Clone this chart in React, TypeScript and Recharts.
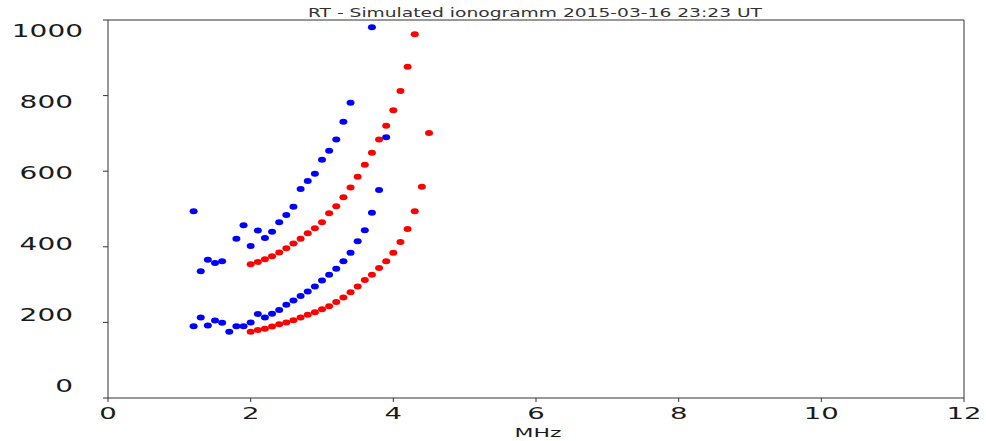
import React from "react";
import { ScatterChart, Scatter, XAxis, YAxis, ReferenceLine } from "recharts";

// frequencies (MHz) and virtual heights (km)
const blueLowerFreq = [1.2, 1.3, 1.4, 1.5, 1.6, 1.7, 1.8, 1.9, 2.0, 2.1, 2.2, 2.3, 2.4, 2.5, 2.6, 2.7, 2.8, 2.9, 3.0, 3.1, 3.2, 3.3, 3.4, 3.5, 3.6, 3.7, 3.8, 3.9];
const blueLowerHeight = [190, 213, 192, 205, 199, 175, 190, 190, 200, 222, 213, 223, 233, 247, 258, 270, 282, 295, 311, 326, 342, 362, 384, 415, 444, 490, 550, 690];

const blueUpperFreq = [1.2, 1.3, 1.4, 1.5, 1.6, 1.8, 1.9, 2.0, 2.1, 2.2, 2.3, 2.4, 2.5, 2.6, 2.7, 2.8, 2.9, 3.0, 3.1, 3.2, 3.3, 3.4, 3.7];
const blueUpperHeight = [494, 335, 366, 357, 362, 421, 457, 402, 443, 423, 440, 465, 484, 506, 553, 574, 593, 630, 654, 684, 731, 781, 981];

const redLowerFreq = [2.0, 2.1, 2.2, 2.3, 2.4, 2.5, 2.6, 2.7, 2.8, 2.9, 3.0, 3.1, 3.2, 3.3, 3.4, 3.5, 3.6, 3.7, 3.8, 3.9, 4.0, 4.1, 4.2, 4.3, 4.4];
const redLowerHeight = [175, 180, 183, 189, 195, 200, 206, 213, 220, 227, 235, 243, 254, 266, 280, 295, 312, 326, 344, 362, 384, 413, 447, 494, 559];

const redUpperFreq = [2.0, 2.1, 2.2, 2.3, 2.4, 2.5, 2.6, 2.7, 2.8, 2.9, 3.0, 3.1, 3.2, 3.3, 3.4, 3.5, 3.6, 3.7, 3.8, 3.9, 4.0, 4.1, 4.2, 4.3, 4.5];
const redUpperHeight = [354, 360, 367, 375, 385, 396, 409, 421, 436, 449, 465, 489, 507, 531, 557, 585, 617, 649, 684, 720, 761, 812, 876, 962, 701];

const xTicks = [0, 2, 4, 6, 8, 10, 12];
const yTicks = [0, 200, 400, 600, 800, 1000];

const title = "RT - Simulated ionogramm 2015-03-16 23:23 UT";

const toPoints = (freq: number[], height: number[]) =>
  freq.map((f, i) => ({ f, h: height[i] }));

const blueData = [
  ...toPoints(blueLowerFreq, blueLowerHeight),
  ...toPoints(blueUpperFreq, blueUpperHeight),
];
const redData = [
  ...toPoints(redLowerFreq, redLowerHeight),
  ...toPoints(redUpperFreq, redUpperHeight),
];

const FONT = "DejaVu Sans";

// the source image is stretched sideways, so glyphs get widened with textLength
const YTick = ({ y, payload }: any) => {
  const label = String(payload.value);
  const ly = 30.5 + (y - 20) * (354.5 / 378);
  const right = payload.value === 1000 ? 83 : 73;
  return (
    <text
      x={right}
      y={ly}
      textAnchor="end"
      dominantBaseline="central"
      fontSize={18}
      fontFamily={FONT}
      fill="#1a1a1a"
      textLength={label.length * 17.8}
      lengthAdjust="spacingAndGlyphs"
    >
      {label}
    </text>
  );
};

const XTick = ({ x, payload }: any) => {
  const label = String(payload.value);
  return (
    <text
      x={x}
      y={413}
      textAnchor="middle"
      dominantBaseline="central"
      fontSize={16}
      fontFamily={FONT}
      fill="#1a1a1a"
      textLength={label.length * 17.5}
      lengthAdjust="spacingAndGlyphs"
    >
      {label}
    </text>
  );
};

const dot = (color: string) => (props: any) =>
  <ellipse cx={props.cx} cy={props.cy} rx={4} ry={3} fill={color} />;

export default function App() {
  return (
    <div style={{ position: "absolute", left: 0, top: 0, width: 986, height: 441, background: "#fff" }}>
      <ScatterChart
        width={986}
        height={441}
        margin={{ top: 20, right: 22, bottom: 0, left: 48 }}
      >
        <XAxis
          type="number"
          dataKey="f"
          domain={[0, 12]}
          ticks={xTicks}
          height={43}
          stroke="#333"
          tickSize={4}
          tick={<XTick />}
          label={{
            content: () => (
              <text
                x={538}
                y={432.5}
                textAnchor="middle"
                dominantBaseline="central"
                fontSize={13}
                fontFamily={FONT}
                fill="#1a1a1a"
                textLength={47}
                lengthAdjust="spacingAndGlyphs"
              >
                MHz
              </text>
            ),
          }}
        />
        <YAxis
          type="number"
          dataKey="h"
          domain={[0, 1000]}
          ticks={yTicks}
          width={60}
          stroke="#333"
          tickSize={5}
          tick={<YTick />}
        />
        <ReferenceLine y={1000} stroke="#333" />
        <ReferenceLine x={12} stroke="#333" />
        <Scatter data={redData} fill="#ff0000" shape={dot("#ff0000")} isAnimationActive={false} />
        <Scatter data={blueData} fill="#0000ff" shape={dot("#0000ff")} isAnimationActive={false} />
      </ScatterChart>
      <svg
        width={986}
        height={20}
        style={{ position: "absolute", left: 0, top: 0, pointerEvents: "none" }}
      >
        <text
          x={535}
          y={12.5}
          textAnchor="middle"
          dominantBaseline="central"
          fontSize={13}
          fontFamily={FONT}
          fill="#333"
          textLength={454}
          lengthAdjust="spacingAndGlyphs"
        >
          {title}
        </text>
      </svg>
    </div>
  );
}
